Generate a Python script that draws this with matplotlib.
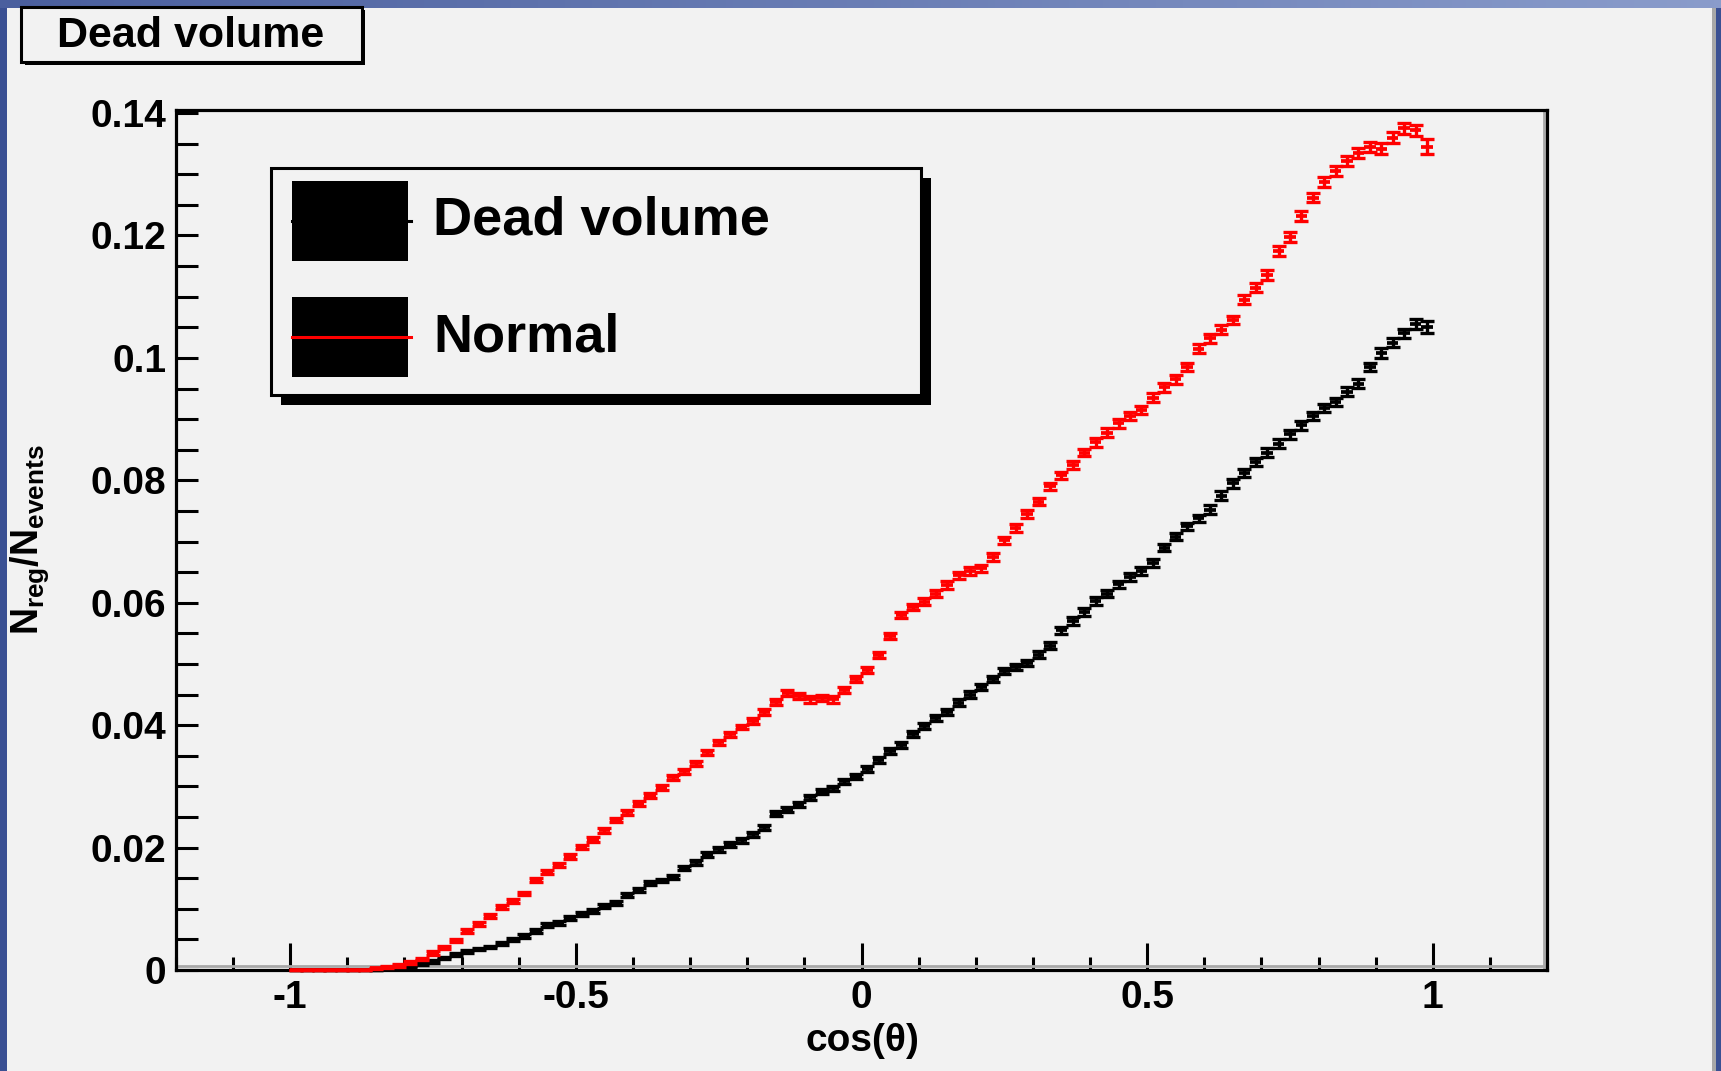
import numpy as np
import matplotlib.pyplot as plt
from matplotlib.patches import Rectangle
from matplotlib.lines import Line2D
from matplotlib.ticker import MultipleLocator, FuncFormatter

plt.rcParams['font.family'] = ['Liberation Sans', 'DejaVu Sans']
plt.rcParams['font.weight'] = 'bold'
plt.rcParams['axes.unicode_minus'] = False
plt.rcParams['mathtext.fontset'] = 'custom'
plt.rcParams['mathtext.rm'] = 'Liberation Sans:bold'
plt.rcParams['mathtext.it'] = 'Liberation Sans:bold'
plt.rcParams['mathtext.bf'] = 'Liberation Sans:bold'

# histogram binning: 100 bins on [-1, 1]
bin_lo, bin_hi, n_bins = -1.0, 1.0, 100

# "Dead volume" (black), bin contents from -0.99 to 0.99
dead = [0, 0, 0, 0, 0, 0, 0, 0, 0.0004, 0.0005,
        0.0006, 0.0010, 0.0014, 0.0020, 0.0025, 0.0030, 0.0034, 0.0038, 0.0043, 0.0050,
        0.0056, 0.0064, 0.0073, 0.0077, 0.0085, 0.0091, 0.0096, 0.0105, 0.0110, 0.0122,
        0.0131, 0.0142, 0.0146, 0.0152, 0.0167, 0.0176, 0.0188, 0.0197, 0.0205, 0.0212,
        0.0222, 0.0233, 0.0255, 0.0262, 0.0270, 0.0282, 0.0291, 0.0297, 0.0308, 0.0316,
        0.0328, 0.0343, 0.0358, 0.0368, 0.0385, 0.0398, 0.0412, 0.0422, 0.0437, 0.0450,
        0.0462, 0.0475, 0.0488, 0.0495, 0.0502, 0.0515, 0.0530, 0.0555, 0.0570, 0.0585,
        0.0603, 0.0615, 0.0630, 0.0642, 0.0652, 0.0665, 0.0690, 0.0708, 0.0725, 0.0738,
        0.0752, 0.0775, 0.0795, 0.0812, 0.0830, 0.0845, 0.0860, 0.0875, 0.0890, 0.0905,
        0.0918, 0.0928, 0.0945, 0.0958, 0.0985, 0.1008, 0.1025, 0.1040, 0.1055, 0.1050]
dead_err = [0, 0, 0, 0, 0, 0, 0, 0, 0.0001, 0.0001,
            0.0001, 0.0002, 0.0002, 0.0002, 0.0002, 0.0002, 0.0002, 0.0002, 0.0002, 0.0002,
            0.0003, 0.0003, 0.0003, 0.0003, 0.0003, 0.0003, 0.0003, 0.0003, 0.0003, 0.0003,
            0.0003, 0.0003, 0.0003, 0.0003, 0.0003, 0.0004, 0.0004, 0.0004, 0.0004, 0.0004,
            0.0004, 0.0004, 0.0004, 0.0004, 0.0004, 0.0004, 0.0004, 0.0004, 0.0004, 0.0004,
            0.0005, 0.0005, 0.0005, 0.0005, 0.0005, 0.0005, 0.0005, 0.0005, 0.0005, 0.0005,
            0.0005, 0.0005, 0.0005, 0.0005, 0.0005, 0.0006, 0.0006, 0.0006, 0.0006, 0.0006,
            0.0006, 0.0006, 0.0006, 0.0006, 0.0006, 0.0006, 0.0006, 0.0006, 0.0006, 0.0006,
            0.0007, 0.0007, 0.0007, 0.0007, 0.0007, 0.0007, 0.0007, 0.0007, 0.0007, 0.0007,
            0.0007, 0.0007, 0.0007, 0.0007, 0.0007, 0.0008, 0.0008, 0.0008, 0.0008, 0.0010]

# "Normal" (red)
normal = [0, 0, 0, 0, 0, 0, 0, 0.0003, 0.0005, 0.0007,
          0.0012, 0.0018, 0.0028, 0.0037, 0.0048, 0.0064, 0.0075, 0.0088, 0.0103, 0.0113,
          0.0125, 0.0147, 0.0160, 0.0172, 0.0185, 0.0201, 0.0213, 0.0228, 0.0245, 0.0258,
          0.0272, 0.0285, 0.0298, 0.0315, 0.0325, 0.0338, 0.0356, 0.0372, 0.0385, 0.0397,
          0.0407, 0.0422, 0.0438, 0.0452, 0.0448, 0.0442, 0.0444, 0.0442, 0.0458, 0.0475,
          0.0490, 0.0515, 0.0546, 0.0580, 0.0593, 0.0602, 0.0615, 0.0629, 0.0645, 0.0652,
          0.0656, 0.0675, 0.0702, 0.0722, 0.0745, 0.0765, 0.0790, 0.0808, 0.0825, 0.0845,
          0.0862, 0.0878, 0.0893, 0.0905, 0.0915, 0.0935, 0.0952, 0.0965, 0.0985, 0.1015,
          0.1032, 0.1046, 0.1062, 0.1095, 0.1115, 0.1135, 0.1175, 0.1198, 0.1232, 0.1262,
          0.1288, 0.1305, 0.1322, 0.1335, 0.1345, 0.1342, 0.1360, 0.1375, 0.1372, 0.1345]
normal_err = [0, 0, 0, 0, 0, 0, 0, 0.0001, 0.0001, 0.0002,
              0.0002, 0.0002, 0.0003, 0.0003, 0.0003, 0.0003, 0.0003, 0.0003, 0.0003, 0.0003,
              0.0003, 0.0003, 0.0003, 0.0003, 0.0004, 0.0004, 0.0004, 0.0004, 0.0004, 0.0004,
              0.0004, 0.0004, 0.0004, 0.0004, 0.0004, 0.0004, 0.0004, 0.0004, 0.0004, 0.0004,
              0.0005, 0.0005, 0.0005, 0.0005, 0.0005, 0.0005, 0.0005, 0.0005, 0.0005, 0.0005,
              0.0005, 0.0005, 0.0005, 0.0005, 0.0005, 0.0006, 0.0006, 0.0006, 0.0006, 0.0006,
              0.0006, 0.0006, 0.0006, 0.0006, 0.0006, 0.0006, 0.0006, 0.0006, 0.0006, 0.0006,
              0.0007, 0.0007, 0.0007, 0.0007, 0.0007, 0.0007, 0.0007, 0.0007, 0.0007, 0.0007,
              0.0007, 0.0007, 0.0007, 0.0007, 0.0007, 0.0008, 0.0008, 0.0008, 0.0008, 0.0008,
              0.0008, 0.0008, 0.0008, 0.0008, 0.0008, 0.0009, 0.0009, 0.0009, 0.0009, 0.0012]

title = "Dead volume"
labels = ["Dead volume", "Normal"]
colors = ["black", "red"]

W, H = 1721, 1071
bg = "#f2f2f2"


def fx(x):
    return x / W


def fy(y):
    return 1 - y / H


fig = plt.figure(figsize=(W / 100, H / 100), dpi=100, facecolor=bg)

# canvas border (ROOT style)
fig.add_artist(Rectangle((0, 0), fx(7), 1, transform=fig.transFigure,
                         facecolor="#3a5093", edgecolor="none", zorder=0))
# top strip with a left-to-right gradient
grad_ax = fig.add_axes([0, fy(8), 1, fy(0) - fy(8)])
grad_ax.imshow(np.linspace(0, 1, 256)[None, :], aspect="auto",
               cmap=plt.matplotlib.colors.LinearSegmentedColormap.from_list(
                   "topbar", ["#4a5f9e", "#8a9ccb"]))
grad_ax.set_axis_off()
fig.add_artist(Rectangle((fx(1712), 0), fx(4), fy(8), transform=fig.transFigure,
                         facecolor="#a8a8a8", edgecolor="none", zorder=0))
fig.add_artist(Rectangle((fx(1716), 0), fx(5), 1, transform=fig.transFigure,
                         facecolor="#3a5093", edgecolor="none", zorder=0))

ax = fig.add_axes([fx(176), fy(970), fx(1547) - fx(176), fy(110) - fy(970)])
ax.set_facecolor(bg)

edges = np.linspace(bin_lo, bin_hi, n_bins + 1)
centers = 0.5 * (edges[:-1] + edges[1:])

for vals, errs, col in [(dead, dead_err, colors[0]), (normal, normal_err, colors[1])]:
    ax.hlines(vals, edges[:-1], edges[1:], colors=col, lw=2.7, zorder=3, clip_on=False)
    ax.errorbar(centers, vals, yerr=errs, fmt="none", ecolor=col, elinewidth=2.4,
                capsize=5, capthick=2.4, zorder=3, clip_on=False)

ax.set_xlim(-1.2, 1.2)
ax.set_ylim(0, 0.1405)

for s in ax.spines.values():
    s.set_linewidth(2.3)
ax.plot([0.9978, 0.9978], [0.004, 1], transform=ax.transAxes, color="#a8a8a8", lw=2.0, zorder=2)
ax.plot([0, 0.9978], [0.0045, 0.0045], transform=ax.transAxes, color="#a8a8a8", lw=2.0, zorder=2)

ax.xaxis.set_major_locator(MultipleLocator(0.5))
ax.xaxis.set_minor_locator(MultipleLocator(0.1))
ax.yaxis.set_major_locator(MultipleLocator(0.02))
ax.yaxis.set_minor_locator(MultipleLocator(0.005))
ax.xaxis.set_major_formatter(FuncFormatter(lambda v, p: "%g" % round(v, 3)))
ax.yaxis.set_major_formatter(FuncFormatter(lambda v, p: "%g" % round(v, 3)))

ax.tick_params(axis="x", which="major", direction="in", length=19.5, width=2.2,
               labelsize=28, pad=7.5, top=False)
ax.tick_params(axis="x", which="minor", direction="in", length=9.5, width=2.2, top=False)
ax.tick_params(axis="y", which="both", direction="in", length=16, width=2.2,
               labelsize=28, pad=7, right=False)
for lab in ax.get_xticklabels() + ax.get_yticklabels():
    lab.set_fontweight("bold")

# axis titles
fig.text(fx(862), fy(1041), "cos(\u03b8)", ha="center", va="center", fontsize=28,
         fontweight="bold")
fig.text(fx(30), fy(540), r"$N_{reg}/N_{events}$", ha="center", va="center",
         rotation=90, fontsize=27)

# title box
fig.add_artist(Rectangle((fx(25), fy(65)), fx(340), fy(7) - fy(62), transform=fig.transFigure,
                         facecolor="black", edgecolor="none", zorder=5))
fig.add_artist(Rectangle((fx(21), fy(62)), fx(341), fy(7) - fy(62), transform=fig.transFigure,
                         facecolor=bg, edgecolor="black", lw=2.2, zorder=6))
fig.text(fx(191), fy(36), title, ha="center", va="center", fontsize=31,
         fontweight="bold", zorder=7)

# legend box
fig.add_artist(Rectangle((fx(281), fy(405)), fx(650), fy(168) - fy(395), transform=fig.transFigure,
                         facecolor="black", edgecolor="none", zorder=5))
fig.add_artist(Rectangle((fx(271), fy(395)), fx(650), fy(168) - fy(395), transform=fig.transFigure,
                         facecolor=bg, edgecolor="black", lw=2.2, zorder=6))
for i, (lab, col) in enumerate(zip(labels, colors)):
    yc = 221 + i * 116
    fig.add_artist(Rectangle((fx(292), fy(yc + 40)), fx(116), fy(yc - 40) - fy(yc + 40),
                             transform=fig.transFigure, facecolor="black",
                             edgecolor="none", zorder=7))
    fig.add_artist(Line2D([fx(292), fx(351)], [fy(yc), fy(yc)], transform=fig.transFigure,
                          color=col, lw=2.2, zorder=8))
    fig.add_artist(Line2D([fx(354), fx(411)], [fy(yc), fy(yc)], transform=fig.transFigure,
                          color=col, lw=2.2, zorder=8))
    fig.text(fx(433), fy(yc), lab, ha="left", va="center", fontsize=39,
             fontweight="bold", zorder=8)

fig.savefig("out.png", dpi=100, facecolor=bg)
